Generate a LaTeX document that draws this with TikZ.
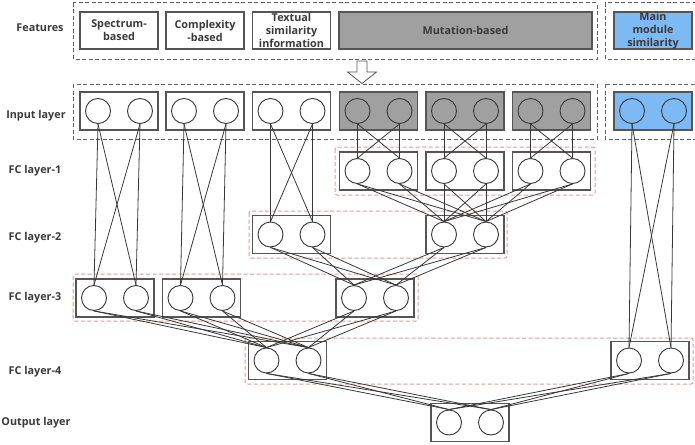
\documentclass[tikz,border=0pt]{standalone}
\usepackage{fontspec}
\setsansfont{Open Sans}
\usepackage{tikz}
\usetikzlibrary{calc}

\definecolor{linec}{HTML}{383838}
\definecolor{boxc}{HTML}{555555}
\definecolor{grpc}{HTML}{606060}
\definecolor{redc}{HTML}{E99595}
\definecolor{grayf}{HTML}{A0A0A0}
\definecolor{bluef}{HTML}{7DB9F3}
\definecolor{txtc}{HTML}{3A3A3A}

\tikzset{
  neuron/.style={circle,draw=linec,line width=0.9pt,minimum size=25pt,inner sep=0pt},
  unitbox/.style={draw=boxc,line width=1.2pt,minimum width=78pt,minimum height=38pt,inner sep=0pt},
  featbox/.style={unitbox,minimum height=37pt,align=center,text=txtc,
    font=\sffamily\bfseries\fontsize{10.8}{13}\selectfont},
  grpbox/.style={draw=grpc,line width=1pt,dash pattern=on 4pt off 2.5pt},
  fcgrp/.style={draw=redc,line width=1pt,dash pattern=on 4pt off 2.5pt,rounded corners=2pt},
  layerlabel/.style={text=txtc,font=\sffamily\bfseries\fontsize{10.8}{12}\selectfont},
  link/.style={draw=linec,line width=0.8pt}
}

\begin{document}
\begin{tikzpicture}[x=1pt,y=-1pt]
  \useasboundingbox (0,0) rectangle (695,444);

  % dashed groups
  \draw[grpbox] (73,3) rectangle (597,59);
  \draw[grpbox] (605,3) rectangle (702,59);
  \draw[grpbox] (73,84) rectangle (597,139);
  \draw[grpbox] (605,84) rectangle (702,139);
  \draw[fcgrp] (335,147) rectangle (595,195);
  \draw[fcgrp] (249,211) rectangle (507,258);
  \draw[fcgrp] (73,274) rectangle (418,321);
  \draw[fcgrp] (245,338) rectangle (693,384);

  % layer labels
  \node[layerlabel] (lbl-feat) at (40,28) {Features};
  \node[layerlabel] (lbl-in) at (36,116) {Input layer};
  \node[layerlabel] (lbl-fc1) at (35,171) {FC layer-1};
  \node[layerlabel] (lbl-fc2) at (35,238) {FC layer-2};
  \node[layerlabel] (lbl-fc3) at (35,298) {FC layer-3};
  \node[layerlabel] (lbl-fc4) at (35,372) {FC layer-4};
  \node[layerlabel] (lbl-out) at (36,423) {Output layer};

  % features
  \node[featbox] (spec) at (119,30.5) {Spectrum-\\based};
  \node[featbox] (comp) at (205,30.5) {Complexity\\-based};
  \node[featbox] (text) at (291.5,30.5) {Textual\\similarity\\information};
  \node[featbox,fill=grayf,minimum width=253pt] (mut) at (465.5,30.5) {Mutation-based};
  \node[featbox,fill=bluef] (main) at (653,30.5) {Main\\module\\similarity};

  % hollow arrow
  \draw[boxc,line width=0.8pt,fill=white] (357,61) -- (367,61) -- (367,72) -- (376.5,72)
    -- (362,83.5) -- (347.5,72) -- (357,72) -- cycle;

  % boxes with two neurons
  \foreach \n/\x/\y/\c in {i1/119/111/white, i2/205/111/white, i3/291.5/111/white,
      i4/378.5/111/grayf, i5/465/111/grayf, i6/551.5/111/grayf, i7/653/111/bluef,
      f11/378.5/171/white, f12/465/171/white, f13/551.5/171/white,
      f21/291.5/234.5/white, f22/465/234.5/white,
      f31/115/298/white, f32/201.5/298/white, f33/375/298/white,
      f41/287.5/360.5/white, f42/650/360.5/white,
      o/470/422.5/white}{
    \node[unitbox,fill=\c] (\n) at (\x,\y) {};
    \node[neuron] (\n-1) at (\x-21,\y) {};
    \node[neuron] (\n-2) at (\x+21,\y) {};
  }

  % connections
  \foreach \s/\t in {i1/f31, i2/f32, i3/f21, i4/f11, i5/f12, i6/f13, i7/f42,
      f11/f22, f12/f22, f13/f22, f21/f33, f22/f33,
      f31/f41, f32/f41, f33/f41, f41/o, f42/o}
    \foreach \a in {1,2}
      \foreach \b in {1,2}
        \draw[link] (\s-\a.south) -- (\t-\b.north);
\end{tikzpicture}
\end{document}
